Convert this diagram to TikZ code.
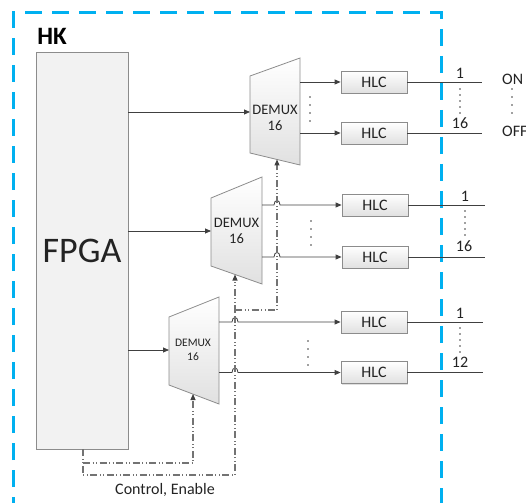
\documentclass[tikz,border=0pt]{standalone}
\usepackage{fontspec}
\setmainfont{Carlito}
\usetikzlibrary{arrows.meta,shadows}
\definecolor{hkblue}{RGB}{0,176,240}
\definecolor{ln}{RGB}{64,64,64}
\definecolor{ctl}{RGB}{115,115,115}
\definecolor{bd}{RGB}{140,140,140}
\definecolor{txt}{RGB}{35,35,35}
\begin{document}
\begin{tikzpicture}[x=1pt,y=-1pt,
  conn/.style={draw=ln,line width=0.8pt},
  arr/.style={conn,-{Triangle[length=6pt,width=5pt]}},
  ctlline/.style={draw=ctl,line width=1.1pt,dash pattern=on 7pt off 2.5pt on 1pt off 2.5pt on 1pt off 2.5pt},
  ctlarr/.style={ctlline,-{Triangle[length=6pt,width=5pt,color=ln]}},
  hlc/.style={draw=bd,line width=0.8pt,top color=white,bottom color=black!12,
    minimum width=66pt,minimum height=22pt,inner sep=0pt,
    drop shadow={shadow xshift=1pt,shadow yshift=-1pt,opacity=0.25},
    font=\fontsize{16}{16}\selectfont,text=txt},
  demux/.style={draw=bd,line width=0.8pt,top color=white,bottom color=black!12},
  dmxtext/.style={align=center,inner sep=0pt,text=txt,font=\fontsize{14.5}{15.5}\selectfont},
  lbl/.style={inner sep=0pt,text=txt,font=\fontsize{16}{16}\selectfont},
  dotc/.style={fill=ln}
]
\useasboundingbox (0,0) rectangle (526,502);

% blue dashed boundary
\draw[hkblue,line width=3pt,dash pattern=on 17pt off 10pt,dash phase=4pt] (13,510) -- (13,13) -- (441,13) -- (441,510);
\node[inner sep=0pt,font=\fontsize{25}{25}\selectfont\bfseries] (hk) at (52,36) {HK};

% FPGA
\node[draw=bd,line width=0.8pt,fill=black!5,minimum width=92pt,minimum height=397pt,inner sep=0pt,
  font=\fontsize{36}{36}\selectfont,text=txt] (fpga) at (82,250.5) {FPGA};

% DEMUX shapes
\path[demux] (250,76) -- (300,58) -- (300,165) -- (250,153) -- cycle;
\node[dmxtext] (d1) at (275,118) {DEMUX\\16};
\path[demux] (211,198) -- (262,177) -- (262,284) -- (211,266) -- cycle;
\node[dmxtext] (d2) at (236.5,231) {DEMUX\\16};
\path[demux] (169,317) -- (219,297) -- (219,404) -- (169,385) -- cycle;
\node[dmxtext,font=\fontsize{11.5}{14.5}\selectfont] (d3) at (193,350) {DEMUX\\16};

% ports
\coordinate (d1in) at (250,112);
\coordinate (d2in) at (211,231);
\coordinate (d3in) at (169,350);
\coordinate (d1o1) at (300,82);
\coordinate (d1o2) at (300,133);
\coordinate (d2o1) at (262,205);
\coordinate (d2o2) at (262,257);
\coordinate (d3o1) at (219,322);
\coordinate (d3o2) at (219,372.5);
\coordinate (d1c) at (277,159.5);
\coordinate (d2c) at (235,274.5);
\coordinate (d3c) at (193,394);

% HLC boxes
\node[hlc] (h11) at (374,82) {HLC};
\node[hlc] (h12) at (374,133) {HLC};
\node[hlc] (h21) at (375,205) {HLC};
\node[hlc] (h22) at (375,257) {HLC};
\node[hlc] (h31) at (374,322) {HLC};
\node[hlc] (h32) at (374,372.5) {HLC};

% inputs
\draw[arr] (fpga.east |- d1in) -- (d1in);
\draw[arr] (fpga.east |- d2in) -- (d2in);
\draw[arr] (fpga.east |- d3in) -- (d3in);

% outputs
\draw[arr] (d1o1) -- (h11.west);
\draw[arr] (d1o2) -- (h12.west);
\draw[arr] (d2o1) -- (274,205) .. controls (274,199) and (280,199) .. (280,205) -- (h21.west);
\draw[arr] (d2o2) -- (274,257) .. controls (274,251) and (280,251) .. (280,257) -- (h22.west);
\draw[arr] (d3o1) -- (232,322) .. controls (232,316) and (238,316) .. (238,322) -- (h31.west);
\draw[arr] (d3o2) -- (232,372.5) .. controls (232,366.5) and (238,366.5) .. (238,372.5) -- (h32.west);

% line ends
\coordinate (e11) at (482,82);
\coordinate (e12) at (482,133);
\coordinate (e21) at (485,205);
\coordinate (e22) at (485,257);
\coordinate (e31) at (483,322);
\coordinate (e32) at (483,372.5);
\draw[conn] (h11.east) -- (e11);
\draw[conn] (h12.east) -- (e12);
\draw[conn] (h21.east) -- (e21);
\draw[conn] (h22.east) -- (e22);
\draw[conn] (h31.east) -- (e31);
\draw[conn] (h32.east) -- (e32);

% labels
\node[lbl] (l11) at (460,73) {1};
\node[lbl] (l12) at (460,123) {16};
\node[lbl] (l21) at (465,196) {1};
\node[lbl] (l22) at (464,246) {16};
\node[lbl] (l31) at (460,313) {1};
\node[lbl] (l32) at (460,362) {12};
\node[lbl,anchor=west] (on) at (502,79) {ON};
\node[lbl,anchor=west] (off) at (502,131) {OFF};

% dots
\foreach \y in {89,95,101,107,113} \fill[dotc] (460,\y) circle (0.9pt);
\foreach \y in {211,217,223,229,235} \fill[dotc] (465,\y) circle (0.9pt);
\foreach \y in {328,334,340,346,352} \fill[dotc] (460,\y) circle (0.9pt);
\foreach \y in {89,97,105,113} \fill[dotc] (512,\y) circle (0.9pt);
\foreach \y in {97,105,113,121} \fill[dotc] (310,\y) circle (0.9pt);
\foreach \y in {221,229,237,245} \fill[dotc] (311,\y) circle (0.9pt);
\foreach \y in {341,349,357,365} \fill[dotc] (308,\y) circle (0.9pt);

% control lines
\coordinate (cst) at (83,463);
\draw[ctlline] (fpga.south -| cst) -- (83,475) -- (235,475) -- (235,310);
\draw[ctlarr] (235,312) -- (d2c);
\draw[ctlarr] (cst) -- (193,463) -- (d3c);
\draw[ctlarr] (235,310) -- (277,310) -- (d1c);
\node[lbl] (ce) at (165,490) {Control, Enable};
\end{tikzpicture}
\end{document}
